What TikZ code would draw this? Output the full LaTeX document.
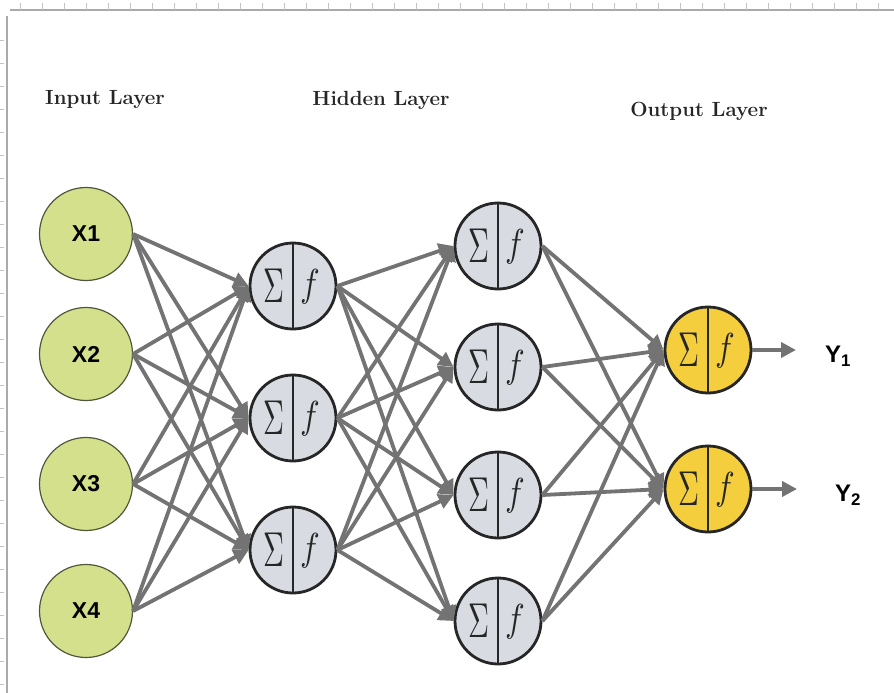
\documentclass[tikz,border=0pt]{standalone}
\usepackage{fontspec}
\usepackage{graphicx}
\newfontfamily\labfont{Liberation Sans}
\usetikzlibrary{arrows.meta}
\definecolor{inputfill}{RGB}{212,224,140}
\definecolor{inputline}{RGB}{80,88,60}
\definecolor{hidfill}{RGB}{216,220,226}
\definecolor{outfill}{RGB}{245,206,62}
\definecolor{edgegray}{RGB}{115,115,115}
\definecolor{rulegray}{RGB}{170,170,170}
\newcommand\mkneuron[4]{%
  \node[neuron, fill=#4] (#1) at (#2,#3) {};
  \draw[line width=2.8pt, draw=black!85] (#1.north) -- (#1.south);
  \node[sym] (#1-s) at ([xshift=-19pt]#1.center) {\scalebox{2.9}[4.9]{$\Sigma$}};
  \node[sym] (#1-f) at ([xshift=17pt,yshift=-1pt]#1.center) {\scalebox{3.3}[3.9]{$f$}};
}
\begin{document}
\begin{tikzpicture}[x=1pt,y=-1pt,
  inp/.style={circle, draw=inputline, fill=inputfill, minimum size=93pt, inner sep=0pt, line width=1.2pt, font=\labfont\bfseries\fontsize{23}{25}\selectfont},
  neuron/.style={circle, draw=black!85, line width=2.8pt, minimum size=86pt, inner sep=0pt},
  sym/.style={inner sep=0pt, font=\fontsize{10}{12}\selectfont, text=black!85},
  title/.style={inner sep=0pt, font=\bfseries\fontsize{20.5}{24}\selectfont, text=black!85},
  ylab/.style={inner sep=0pt, font=\labfont\bfseries\fontsize{24}{26}\selectfont},
  conn/.style={draw=edgegray, line width=3.8pt, -{Triangle[length=15pt,width=15pt]}},
  rule/.style={draw=rulegray, line width=1.5pt},
  tick/.style={draw=rulegray!70, line width=0.6pt},
]
\useasboundingbox (0,0) rectangle (894,693);
\fill[white] (0,0) rectangle (894,693);
% ruler frame
\draw[rule] (10,10) -- (894,10);
\draw[rule] (7,16) -- (7,693);
\foreach \t in {20,42,...,890} \draw[tick] (\t,3) -- (\t,10);
\foreach \t in {40,63,...,690} \draw[tick] (0,\t) -- (4,\t);

% titles
\node[title] (tin) at (105,100) {Input Layer};
\node[title] (thid) at (381,100) {Hidden Layer};
\node[title] (tout) at (699,111) {Output Layer};

% input layer
\node[inp] (x1) at (86,234) {X1};
\node[inp] (x2) at (86,354) {X2};
\node[inp] (x3) at (86,484) {X3};
\node[inp] (x4) at (86,611) {X4};

% hidden layer 1
\mkneuron{a1}{293}{286}{hidfill}
\mkneuron{a2}{293}{418}{hidfill}
\mkneuron{a3}{293}{550}{hidfill}
% hidden layer 2
\mkneuron{b1}{498}{246}{hidfill}
\mkneuron{b2}{498}{367}{hidfill}
\mkneuron{b3}{498}{495}{hidfill}
\mkneuron{b4}{498}{621}{hidfill}
% output
\mkneuron{o1}{708}{350}{outfill}
\mkneuron{o2}{708}{489}{outfill}

% connections
\foreach \i in {x1,x2,x3,x4}
  \foreach \j in {a1,a2,a3}
    \draw[conn] (\i.east) -- (\j.west);
\foreach \i in {a1,a2,a3}
  \foreach \j in {b1,b2,b3,b4}
    \draw[conn] (\i.east) -- (\j.west);
\foreach \i in {b1,b2,b3,b4}
  \foreach \j in {o1,o2}
    \draw[conn] (\i.east) -- (\j.west);

% outputs
\coordinate (e1) at (796,350);
\coordinate (e2) at (797,489);
\draw[conn] (o1.east) -- (e1);
\draw[conn] (o2.east) -- (e2);
\node[ylab] (y1) at (838,356) {Y\textsubscript{1}};
\node[ylab] (y2) at (848,495) {Y\textsubscript{2}};
\end{tikzpicture}
\end{document}
